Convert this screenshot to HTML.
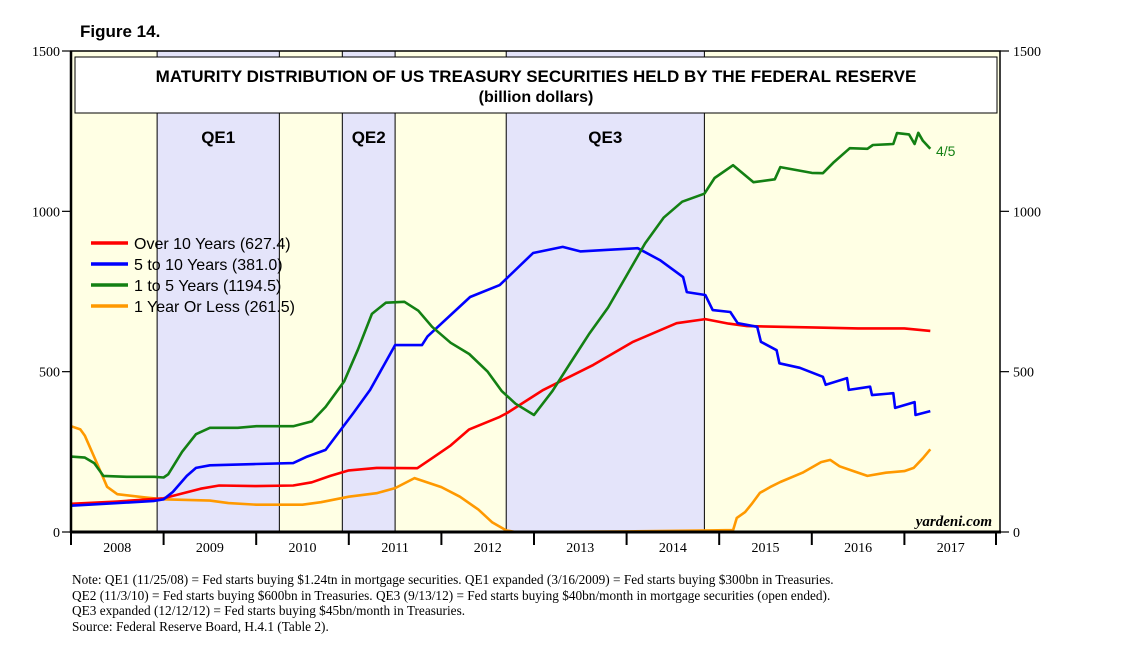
<!DOCTYPE html>
<html><head><meta charset="utf-8"><style>
body{margin:0;background:#fff;width:1138px;height:656px;overflow:hidden;font-family:"Liberation Sans",sans-serif}
svg{position:absolute;left:0;top:0}
</style></head><body>
<svg width="1138" height="656">
<g id="bg"></g><g id="lines"></g><g id="axes"></g>
</svg>
<script>
const categoriesYears=["2008","2009","2010","2011","2012","2013","2014","2015","2016","2017"];
const yTicks=[0,500,1000,1500];
const qePeriods=[["QE1",2008.93,2010.25],["QE2",2010.93,2011.5],["QE3",2012.7,2014.84]];
const greenT=[2008,2008.15,2008.25,2008.35,2008.6,2008.9,2009,2009.05,2009.2,2009.35,2009.5,2009.8,2010,2010.4,2010.6,2010.75,2010.95,2011.1,2011.25,2011.4,2011.6,2011.75,2011.9,2012.1,2012.3,2012.5,2012.65,2012.8,2013,2013.2,2013.4,2013.6,2013.8,2014,2014.2,2014.4,2014.6,2014.84,2014.95,2015.15,2015.37,2015.6,2015.66,2016,2016.12,2016.23,2016.41,2016.6,2016.66,2016.88,2016.92,2017.05,2017.11,2017.15,2017.2,2017.28];
const greenV=[235,232,215,175,172,172,170,180,250,305,325,325,330,330,345,390,470,570,680,715,718,690,640,590,555,500,440,400,365,440,530,620,700,800,900,980,1030,1055,1104,1144,1091,1100,1138,1120,1119,1151,1197,1195,1207,1210,1244,1240,1210,1245,1220,1195];
const blueT=[2008,2008.5,2008.9,2009,2009.1,2009.25,2009.35,2009.5,2010,2010.4,2010.55,2010.75,2011.05,2011.23,2011.5,2011.79,2011.85,2012.31,2012.63,2012.99,2013.31,2013.5,2013.8,2014.12,2014.36,2014.61,2014.65,2014.85,2014.93,2015.12,2015.2,2015.41,2015.45,2015.62,2015.65,2015.87,2016.12,2016.15,2016.38,2016.4,2016.63,2016.65,2016.88,2016.9,2017.11,2017.12,2017.28];
const blueV=[82,90,97,102,125,175,200,208,212,215,235,256,371,443,583,583,610,733,770,870,889,875,880,885,848,795,748,739,692,686,651,640,593,567,526,512,484,459,480,443,453,427,433,387,405,365,377];
const redT=[2008,2008.5,2009,2009.2,2009.4,2009.6,2010,2010.4,2010.6,2010.8,2011,2011.3,2011.74,2011.9,2012.1,2012.3,2012.63,2012.71,2013.1,2013.64,2014.07,2014.54,2014.85,2015.1,2015.3,2016,2016.5,2017,2017.28];
const redV=[88,95,105,120,135,145,143,145,155,175,192,200,199,230,270,320,359,371,443,521,593,651,664,650,642,638,635,635,627];
const orangeT=[2008,2008.1,2008.15,2008.28,2008.39,2008.5,2008.8,2009,2009.5,2009.7,2010,2010.5,2010.7,2011,2011.3,2011.5,2011.71,2012,2012.2,2012.4,2012.55,2012.7,2012.8,2014,2014.9,2015.15,2015.19,2015.28,2015.35,2015.44,2015.55,2015.66,2015.9,2016.1,2016.2,2016.3,2016.45,2016.6,2016.8,2017,2017.1,2017.2,2017.28];
const orangeV=[330,320,300,215,141,118,108,102,98,90,85,85,93,110,121,137,168,140,110,70,30,5,0,2,5,6,44,62,87,122,140,156,185,218,225,205,190,175,185,190,200,230,258];
const legendNames=["Over 10 Years (627.4)","5 to 10 Years (381.0)","1 to 5 Years (1194.5)","1 Year Or Less (261.5)"];

const X0=71,YW=92.6,Y0=532,YK=481/1500;
const xs=t=>X0+(t-2008)*YW, ys=v=>Y0-v*YK;
const NS="http://www.w3.org/2000/svg";
function mk(tag,attrs,parent,text){const e=document.createElementNS(NS,tag);for(const k in attrs)e.setAttribute(k,attrs[k]);if(text!==undefined)e.textContent=text;parent.appendChild(e);return e;}
const bg=document.getElementById('bg'),ln=document.getElementById('lines'),ax=document.getElementById('axes');
let r=mk('rect',{x:71,y:51,width:929,height:481,fill:'#ffffe4'},bg);


qePeriods.forEach(p=>{
 const a=xs(p[1]),b=xs(p[2]);
 const q=mk('rect',{x:a,y:51,width:b-a,height:481,fill:'#e4e4fa',stroke:'#000','stroke-width':1},bg);
 
 
 const t=mk('text',{x:(a+b)/2,y:143,'text-anchor':'middle','font-size':17,'font-weight':'bold'},bg,p[0]);
 
 
});
// title box
let tb=mk('rect',{x:75,y:57,width:922,height:56,fill:'#fff',stroke:'#000','stroke-width':1},bg);


let t1=mk('text',{x:536,y:82,'text-anchor':'middle','font-size':17,'font-weight':'bold'},bg,'MATURITY DISTRIBUTION OF US TREASURY SECURITIES HELD BY THE FEDERAL RESERVE');


let t2=mk('text',{x:536,y:102,'text-anchor':'middle','font-size':16,'font-weight':'bold'},bg,'(billion dollars)');



const series=[[redT,redV,'#ff0000','series-over-10-years'],[blueT,blueV,'#0000ff','series-5-to-10-years'],[greenT,greenV,'#138013','series-1-to-5-years'],[orangeT,orangeV,'#ff9900','series-1-year-or-less']];
[3,0,1,2].forEach(i=>{
 const s=series[i];
 const d=s[0].map((t,j)=>(j?'L':'M')+xs(t).toFixed(1)+','+ys(s[1][j]).toFixed(1)).join('');
 const p=mk('path',{d:d,fill:'none',stroke:s[2],'stroke-width':2.6,'stroke-linejoin':'round'},ln);
 
 
});
// legend
legendNames.forEach((n,i)=>{
 const y=243+i*21;
 const g=mk('g',{},ln);
 
 
 mk('line',{x1:91,x2:128,y1:y,y2:y,stroke:series[i][2],'stroke-width':3.5},g);
 mk('text',{x:134,y:y+6,'font-size':16},g,n);
});
let lab=mk('text',{x:936,y:156,'font-size':14,fill:'#138013'},ln,'4/5');


let yd=mk('text',{x:992,y:526,'text-anchor':'end','font-size':15,'font-style':'italic','font-weight':'bold','font-family':'Liberation Serif, serif'},ln,'yardeni.com');


// frame & axes
mk('rect',{x:71,y:51,width:929,height:481,fill:'none',stroke:'#000','stroke-width':1.5},ax);
mk('line',{x1:70,x2:1001,y1:532,y2:532,stroke:'#000','stroke-width':3},ax);
mk('line',{x1:71,x2:71,y1:51,y2:533,stroke:'#000','stroke-width':2.5},ax);
yTicks.forEach(v=>{
 const y=ys(v);
 mk('line',{x1:62,x2:71,y1:y,y2:y,stroke:'#000','stroke-width':1.2},ax);
 mk('line',{x1:1000,x2:1009,y1:y,y2:y,stroke:'#000','stroke-width':1.2},ax);
 const a=mk('text',{x:60,y:y+5,'text-anchor':'end','font-size':14,'font-family':'Liberation Serif, serif'},ax,String(v));
 
 
 const b=mk('text',{x:1013,y:y+5,'font-size':14,'font-family':'Liberation Serif, serif'},ax,String(v));
 
 
});
categoriesYears.forEach((yr,i)=>{
 const x=xs(2008+i);
 mk('line',{x1:x,x2:x,y1:532,y2:545,stroke:'#000','stroke-width':2},ax);
 const t=mk('text',{x:x+YW/2,y:552,'text-anchor':'middle','font-size':14,'font-family':'Liberation Serif, serif'},ax,yr);
 
 
});
mk('line',{x1:xs(2018)-1,x2:xs(2018)-1,y1:532,y2:545,stroke:'#000','stroke-width':2},ax);
</script>
<div style="position:absolute;left:80px;top:22px;font-size:17px;font-weight:bold">Figure 14.</div>
<div style="position:absolute;left:72px;top:572px;font-family:'Liberation Serif',serif;font-size:13.3px;line-height:15.5px;white-space:nowrap">Note: QE1 (11/25/08) = Fed starts buying $1.24tn in mortgage securities. QE1 expanded (3/16/2009) = Fed starts buying $300bn in Treasuries.<br>QE2 (11/3/10) = Fed starts buying $600bn in Treasuries. QE3 (9/13/12) = Fed starts buying $40bn/month in mortgage securities (open ended).<br>QE3 expanded (12/12/12) = Fed starts buying $45bn/month in Treasuries.<br>Source: Federal Reserve Board, H.4.1 (Table 2).</div>
</body></html>
